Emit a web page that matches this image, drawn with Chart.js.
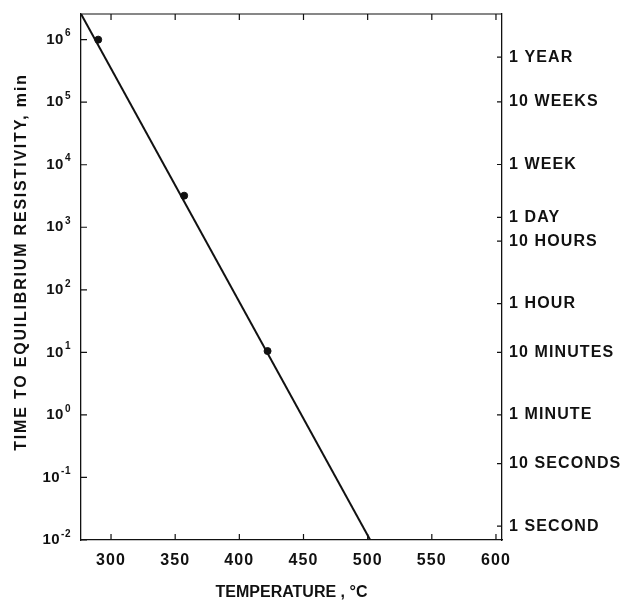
<!DOCTYPE html>
<html>
<head>
<meta charset="utf-8">
<script src="https://cdn.jsdelivr.net/npm/chart.js@4.4.1/dist/chart.umd.min.js"></script>
<style>
  html, body { margin: 0; padding: 0; background: #fff; }
</style>
</head>
<body>
<canvas id="tijdChart" width="625" height="601"></canvas>
<script>
// Meetpunten: temperatuur (°C) en tijd tot evenwicht (min)
var temperaturen = [290, 357, 422];
var tijden = [1.0e6, 3.2e3, 10.5];
// Rechte lijn door de punten, van linksboven tot de onderrand
var lijnTemp = [276.5, 502];
var lijnTijd = [2.6e6, 0.01];

// As-verdeling
var tempTicks = [300, 350, 400, 450, 500, 550, 600];
var decaden = [1e-2, 1e-1, 1e0, 1e1, 1e2, 1e3, 1e4, 1e5, 1e6];
var exponenten = ["-2", "-1", "0", "1", "2", "3", "4", "5", "6"];
// Rechter as: tijdsduren omgerekend naar minuten
var duurMinuten = [1 / 60, 10 / 60, 1, 10, 60, 600, 1440, 10080, 100800, 525600];
var duurLabels = ["1 SECOND", "10 SECONDS", "1 MINUTE", "10 MINUTES", "1 HOUR",
                  "10 HOURS", "1 DAY", "1 WEEK", "10 WEEKS", "1 YEAR"];

var yTitel = "TIME TO EQUILIBRIUM RESISTIVITY, min";
var xTitel = "TEMPERATURE , °C";

var zwart = "#111";
var letter = "'Liberation Sans', Arial, sans-serif";

// Letterafstand voor de ticklabels
var spatiering = {
    id: "spatiering",
    beforeDraw: function (chart) {
        chart.ctx.letterSpacing = "1.1px";
    }
};

// Geen extra ruimte voor uitstekende labels, het plotvak ligt vast
function geenRand(scale) {
    scale.paddingTop = 0;
    scale.paddingBottom = 0;
    scale.paddingLeft = 0;
    scale.paddingRight = 0;
}

// Tickstreepjes naar binnen, bovenrand, linker labels 10^n en de astitels
var binnenTicks = {
    id: "binnenTicks",
    afterDatasetsDraw: function (chart) {
        var ctx = chart.ctx, a = chart.chartArea;
        var sx = chart.scales.x, sy = chart.scales.y, sy2 = chart.scales.y2;
        ctx.save();
        ctx.strokeStyle = zwart;
        ctx.lineWidth = 1.2;
        ctx.beginPath();
        ctx.moveTo(a.left, a.top);
        ctx.lineTo(a.right, a.top);
        sx.ticks.forEach(function (t) {
            var px = sx.getPixelForValue(t.value);
            ctx.moveTo(px, a.bottom); ctx.lineTo(px, a.bottom - 6);
            ctx.moveTo(px, a.top); ctx.lineTo(px, a.top + 6);
        });
        sy.ticks.forEach(function (t) {
            var py = sy.getPixelForValue(t.value);
            ctx.moveTo(a.left, py); ctx.lineTo(a.left + 6, py);
        });
        sy2.ticks.forEach(function (t) {
            var py = sy2.getPixelForValue(t.value);
            ctx.moveTo(a.right, py); ctx.lineTo(a.right - 5, py);
        });
        ctx.stroke();

        // linker labels: "10" met verhoogde exponent
        ctx.fillStyle = zwart;
        ctx.letterSpacing = "0.5px";
        ctx.textBaseline = "middle";
        var rechts = a.left - 10;
        decaden.forEach(function (v, i) {
            var py = sy.getPixelForValue(v);
            ctx.font = "bold 10px " + letter;
            ctx.textAlign = "left";
            var ew = ctx.measureText(exponenten[i]).width;
            var ex = rechts - ew;
            ctx.fillText(exponenten[i], ex, py - 6);
            ctx.font = "bold 15px " + letter;
            ctx.textAlign = "right";
            ctx.fillText("10", ex - 1, py);
        });

        // titel onder de x-as
        ctx.letterSpacing = "0px";
        ctx.font = "bold 16px " + letter;
        ctx.textAlign = "center";
        ctx.fillText(xTitel, (a.left + a.right) / 2, 593);

        // titel van de linker as
        ctx.save();
        ctx.translate(22, 262);
        ctx.rotate(-Math.PI / 2);
        ctx.letterSpacing = "1.8px";
        ctx.font = "bold 16px " + letter;
        ctx.textAlign = "center";
        ctx.fillText(yTitel, 0, 0);
        ctx.restore();
        ctx.restore();
    }
};

var ctx = document.getElementById("tijdChart").getContext("2d");
var tijdChart = new Chart(ctx, {
    type: "scatter",
    data: {
        datasets: [{
            // de rechte lijn
            data: lijnTemp.map(function (t, i) { return { x: t, y: lijnTijd[i] }; }),
            showLine: true,
            borderColor: zwart,
            borderWidth: 2,
            pointRadius: 0
        }, {
            // de meetpunten
            data: temperaturen.map(function (t, i) { return { x: t, y: tijden[i] }; }),
            backgroundColor: zwart,
            borderColor: zwart,
            pointRadius: 3.5
        }]
    },
    options: {
        responsive: false,
        animation: false,
        devicePixelRatio: 1,
        layout: { padding: { top: 14, left: 0, right: 0, bottom: 0 } },
        plugins: {
            legend: { display: false },
            tooltip: { enabled: false }
        },
        scales: {
            x: {
                type: "linear",
                min: 276.6,
                max: 604.7,
                afterBuildTicks: function (scale) {
                    scale.ticks = tempTicks.map(function (v) { return { value: v }; });
                },
                afterFit: function (scale) { scale.height = 61; geenRand(scale); },
                grid: { display: false, drawTicks: false },
                border: { display: true, color: zwart, width: 1.3 },
                ticks: {
                    color: zwart,
                    padding: 11,
                    font: { family: letter, size: 16, weight: "bold" }
                }
            },
            y: {
                type: "logarithmic",
                position: "left",
                min: 0.01,
                max: 2.57e6,
                afterBuildTicks: function (scale) {
                    scale.ticks = decaden.map(function (v) { return { value: v }; });
                },
                afterFit: function (scale) { scale.width = 81; geenRand(scale); },
                grid: { display: false, drawTicks: false },
                border: { display: true, color: zwart, width: 1.3 },
                ticks: { display: false }
            },
            y2: {
                type: "logarithmic",
                position: "right",
                min: 0.01,
                max: 2.57e6,
                afterBuildTicks: function (scale) {
                    scale.ticks = duurMinuten.map(function (v) { return { value: v }; });
                },
                afterFit: function (scale) { scale.width = 123; geenRand(scale); },
                grid: { display: false, drawTicks: false },
                border: { display: true, color: zwart, width: 1.3 },
                ticks: {
                    color: zwart,
                    padding: 7,
                    autoSkip: false,
                    callback: function (value, index) { return duurLabels[index]; },
                    font: { family: letter, size: 16, weight: "bold" }
                }
            }
        }
    },
    plugins: [spatiering, binnenTicks]
});
</script>
</body>
</html>
